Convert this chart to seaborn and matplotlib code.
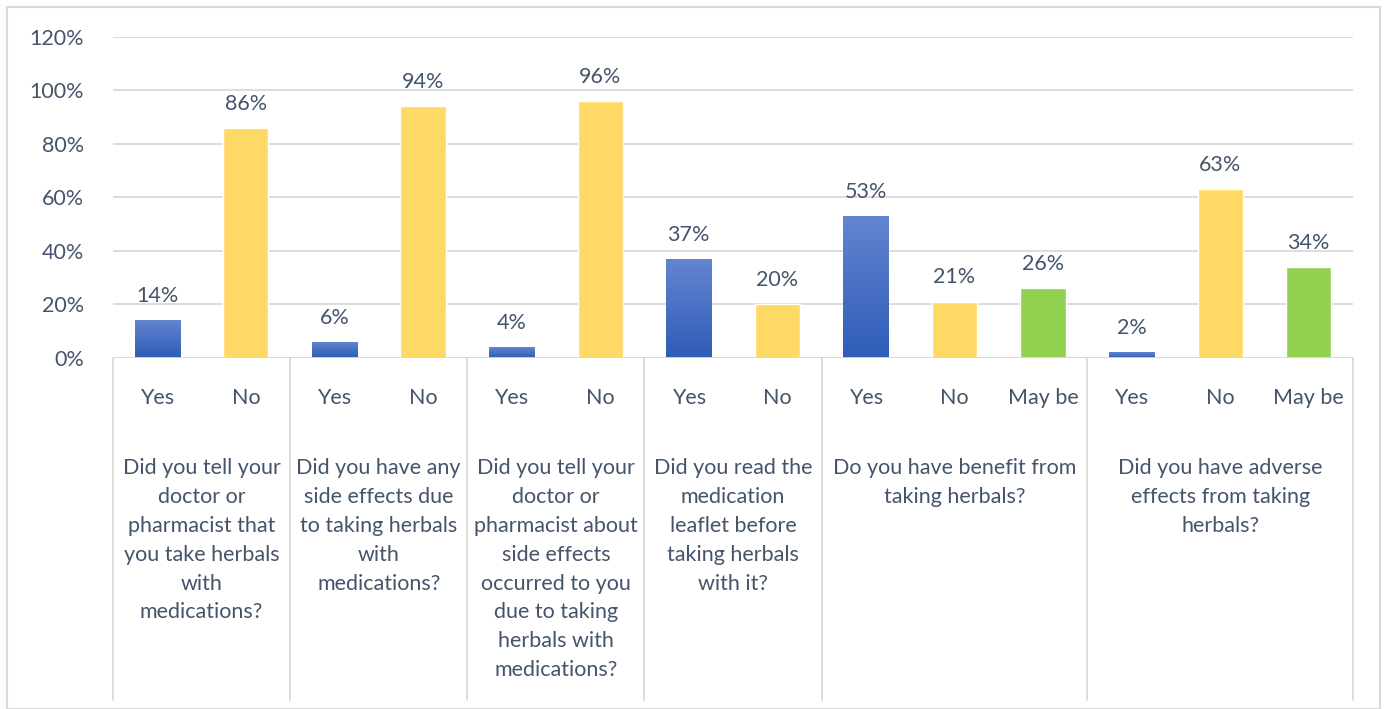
import numpy as np
import pandas as pd
import matplotlib
matplotlib.use("Agg")
import matplotlib.pyplot as plt
import matplotlib.transforms as mtransforms
from matplotlib.patches import Rectangle
from matplotlib.colors import LinearSegmentedColormap
import seaborn as sns

# ---------------- data ----------------
questions = [
    "Did you tell your\ndoctor or\npharmacist that\nyou take herbals\nwith\nmedications?",
    "Did you have any\nside effects due\nto taking herbals\nwith\nmedications?",
    "Did you tell your\ndoctor or\npharmacist about\nside effects\noccurred to you\ndue to taking\nherbals with\nmedications?",
    "Did you read the\nmedication\nleaflet before\ntaking herbals\nwith it?",
    "Do you have benefit from\ntaking herbals?",
    "Did you have adverse\neffects from taking\nherbals?",
]
answers = [
    ["Yes", "No"],
    ["Yes", "No"],
    ["Yes", "No"],
    ["Yes", "No"],
    ["Yes", "No", "May be"],
    ["Yes", "No", "May be"],
]
values = [
    [14, 86],
    [6, 94],
    [4, 96],
    [37, 20],
    [53, 21, 26],
    [2, 63, 34],
]
y_ticks = [0, 20, 40, 60, 80, 100, 120]

# ---------------- style ----------------
TEXT = "#44546A"
GRID = "#D9D9D9"
FS = 15.5
palette = {"Yes": "#4472C4", "No": "#FFD966", "May be": "#92D050"}

sns.set_theme(style="white")
plt.rcParams["font.family"] = ["Lato", "DejaVu Sans"]

rows = []
for qi, (q, ans, vals) in enumerate(zip(questions, answers, values)):
    for a, v in zip(ans, vals):
        rows.append({"key": f"{qi}-{a}", "answer": a, "value": v, "q": qi})
df = pd.DataFrame(rows)
order = list(df["key"])

W, H = 1384, 709
fig = plt.figure(figsize=(W / 100, H / 100), dpi=100)
fig.patch.set_facecolor("white")

ax_left, ax_right = 113 / W, 1353 / W
ax_top, ax_bot = 36.7, 357.7
ax = fig.add_axes([ax_left, 1 - ax_bot / H, ax_right - ax_left, (ax_bot - ax_top) / H])

sns.barplot(data=df, x="key", y="value", hue="answer", order=order,
            hue_order=["Yes", "No", "May be"], palette=palette, dodge=False,
            width=0.51, saturation=1, legend=False, ax=ax)

ax.set_ylim(0, 120)
ax.set_xlim(-0.5, len(order) - 0.5)
ax.set_yticks(y_ticks)
ax.set_yticklabels([f"{t}%" for t in y_ticks], color=TEXT, fontsize=FS)
ax.tick_params(axis="y", length=0, pad=21)
ax.set_xticks([])
ax.set_xlabel("")
ax.set_ylabel("")
for s in ax.spines.values():
    s.set_visible(False)
ax.grid(axis="y", color=GRID, linewidth=1.3)
ax.set_axisbelow(True)
ax.axhline(0, color=GRID, linewidth=1.3, zorder=3)

# gradient for blue bars
cmap = LinearSegmentedColormap.from_list("blu", ["#2E5CB8", "#6385CF"])
grad = np.linspace(0, 1, 256).reshape(-1, 1)
yes_rgb = matplotlib.colors.to_rgba(palette["Yes"])
for p in list(ax.patches):
    if np.allclose(p.get_facecolor(), yes_rgb, atol=0.02) and p.get_height() > 0:
        x0, w, h = p.get_x(), p.get_width(), p.get_height()
        im = ax.imshow(grad, cmap=cmap, aspect="auto", origin="lower",
                       extent=[x0, x0 + w, 0, h], zorder=p.get_zorder() + 0.1)
        im.set_clip_path(p)
ax.set_xlim(-0.5, len(order) - 0.5)
ax.set_ylim(0, 120)

# data labels
for i, v in enumerate(df["value"]):
    ax.annotate(f"{v}%", (i, v), xytext=(0, 13), textcoords="offset points",
                ha="center", va="baseline", color=TEXT, fontsize=FS)

# category axis
ax_h = ax_bot - ax_top
def yfrac(py):
    return (ax_bot - py) / ax_h

trans = mtransforms.blended_transform_factory(ax.transData, ax.transAxes)
for i, a in enumerate(df["answer"]):
    ax.text(i, yfrac(398), a, transform=trans, ha="center", va="center",
            color=TEXT, fontsize=FS, clip_on=False)

bounds = [-0.5]
for ans in answers:
    bounds.append(bounds[-1] + len(ans))
for b in bounds:
    ax.plot([b, b], [0, yfrac(700)], transform=trans, color=GRID,
            linewidth=1.3, clip_on=False)
for qi, q in enumerate(questions):
    cx = (bounds[qi] + bounds[qi + 1]) / 2
    ax.text(cx, yfrac(458), q, transform=trans, ha="center", va="top",
            color=TEXT, fontsize=FS, linespacing=1.555, clip_on=False)

# outer chart border
fig.patches.append(Rectangle((7 / W, 0), (1380 - 7) / W, 1 - 7 / H,
                             transform=fig.transFigure, fill=False,
                             edgecolor=GRID, linewidth=1.5))

fig.savefig("out.png", dpi=100)
